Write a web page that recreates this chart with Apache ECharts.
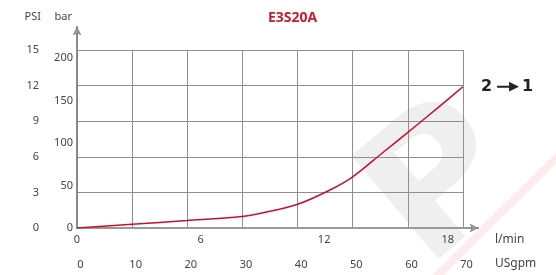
<!DOCTYPE html>
<html>
<head>
<meta charset="utf-8">
<script src="https://cdn.jsdelivr.net/npm/echarts@6/dist/echarts.min.js"></script>
<style>
  html, body { margin: 0; padding: 0; background: #fff; }
  #chart { width: 556px; height: 275px; }
</style>
</head>
<body>
<div id="chart"></div>
<script>
// flow (l/min) and pressure drop (bar)
var flowLpm     = [0, 2.67, 5.34, 8.01, 8.98, 10.68, 12.28, 13.35, 14.85, 16.02, 16.99, 18.01, 18.74];
var pressureBar = [0, 4.5, 8.7, 13.5, 17.6, 27.6, 44.7, 59.6, 88.8, 111.6, 130.9, 151.4, 166.2];

var lpmTicks   = [0, 6, 12, 18];
var usgpmTicks = [0, 10, 20, 30, 40, 50, 60, 70];
var barTicks   = [0, 50, 100, 150, 200];
var psiTicks   = [0, 3, 6, 9, 12, 15];

var chart = echarts.init(document.getElementById('chart'));
var font = 'Noto Sans';
var txt = '#444';

function only(list) {
    return function (v) { return list.indexOf(Math.round(v * 100) / 100) >= 0 ? String(v) : ''; };
}

var data = flowLpm.map(function (f, i) { return [f, pressureBar[i]]; });

option = {
    animation: false,
    textStyle: { fontFamily: font },
    title: {
        text: 'E3S20A',
        left: 263,
        top: 6,
        textStyle: { color: '#c41e2f', fontSize: 14, fontWeight: 'bold', fontFamily: font }
    },
    graphic: [
        {
            type: 'text', z: -10, left: 335, top: 75, rotation: 0.7,
            style: { text: 'P', fontSize: 185, fontWeight: 'bold', fontFamily: 'DejaVu Sans', fill: '#efefef' }
        },
        {
            type: 'rect', z: -10, x: 425, y: 282, rotation: 0.78,
            shape: { x: 0, y: 0, width: 190, height: 8 },
            style: { fill: '#fcecee' }
        }
    ],
    grid: [
        { left: 77, top: 50, width: 386, height: 178 },   // plot area (grid lines)
        { left: 77, top: 27, width: 401, height: 201 }    // axes with arrows
    ],
    xAxis: [
        {
            gridIndex: 0, type: 'value', min: 0, max: 70, interval: 10,
            axisLine: { show: false }, axisTick: { show: false }, axisLabel: { show: false },
            splitLine: { show: true, lineStyle: { color: '#8f8f8f', width: 1 } }
        },
        {
            gridIndex: 1, type: 'value', name: 'l/min', min: 0, max: 19.47, interval: 6,
            nameLocation: 'end', nameGap: 17,
            nameTextStyle: { color: txt, fontSize: 12, align: 'left', verticalAlign: 'top', padding: [6, 0, 0, 0] },
            axisLine: { show: true, symbol: ['none', 'arrow'], symbolSize: [6, 8], lineStyle: { color: '#333', width: 1.5 } },
            axisTick: { show: false },
            axisLabel: { color: txt, fontSize: 11, margin: 6, formatter: only(lpmTicks), showMaxLabel: false },
            splitLine: { show: false }
        },
        {
            gridIndex: 1, type: 'value', name: 'USgpm', min: 0, max: 72.7, interval: 10,
            position: 'bottom', offset: 25,
            nameLocation: 'end', nameGap: 17,
            nameTextStyle: { color: txt, fontSize: 12, align: 'left', verticalAlign: 'top', padding: [30, 0, 0, 0] },
            axisLine: { show: true, symbol: ['none', 'arrow'], symbolSize: [6, 8], lineStyle: { color: '#999', width: 2 } },
            axisTick: { show: false },
            axisLabel: { color: txt, fontSize: 11, margin: 6, padding: [0, 0, 0, 7], formatter: only(usgpmTicks), showMaxLabel: false },
            splitLine: { show: false }
        }
    ],
    yAxis: [
        {
            gridIndex: 0, type: 'value', min: 0, max: 15, interval: 3,
            axisLine: { show: false }, axisTick: { show: false }, axisLabel: { show: false },
            splitLine: { show: true, lineStyle: { color: '#8f8f8f', width: 1 } }
        },
        {
            gridIndex: 1, type: 'value', name: 'bar', min: 0, max: 236.5, interval: 50,
            nameLocation: 'end', nameGap: 5,
            nameTextStyle: { color: txt, fontSize: 11, align: 'right', padding: [0, 5, 0, 0] },
            axisLine: { show: true, symbol: ['none', 'arrow'], symbolSize: [6, 8], lineStyle: { color: '#333', width: 1.5 } },
            axisTick: { show: false },
            axisLabel: { color: txt, fontSize: 11, margin: 4, padding: [0, 0, 6, 0], formatter: only(barTicks), showMaxLabel: false },
            splitLine: { show: false }
        },
        {
            gridIndex: 1, type: 'value', name: 'PSI', min: 0, max: 16.94, interval: 3,
            position: 'left', offset: 25,
            nameLocation: 'end', nameGap: 5,
            nameTextStyle: { color: txt, fontSize: 11, align: 'right', padding: [0, 36, 0, 0] },
            axisLine: { show: true, symbol: ['none', 'arrow'], symbolSize: [6, 8], lineStyle: { color: '#999', width: 1.5 } },
            axisTick: { show: false },
            axisLabel: { color: txt, fontSize: 11, margin: 13, padding: [0, 0, 6, 0], formatter: only(psiTicks), showMaxLabel: false },
            splitLine: { show: false }
        }
    ],
    series: [
        {
            type: 'line',
            xAxisIndex: 1,
            yAxisIndex: 1,
            data: data,
            smooth: 0.35,
            showSymbol: false,
            lineStyle: { color: '#c8102e', width: 1.5 },
            endLabel: {
                show: true,
                formatter: '{n|2}{gap| }{s| }{h|\u25B6}{gap2| }{n|1}',
                distance: 18,
                rich: {
                    n: { color: '#222', fontSize: 16, fontWeight: 'bold', fontFamily: 'DejaVu Sans' },
                    gap: { width: 5 },
                    gap2: { width: 3 },
                    s: { width: 12, height: 2, backgroundColor: '#222', fontSize: 2 },
                    h: { color: '#222', fontSize: 13, fontFamily: 'DejaVu Sans' }
                }
            }
        }
    ]
};

chart.setOption(option);
</script>
</body>
</html>
